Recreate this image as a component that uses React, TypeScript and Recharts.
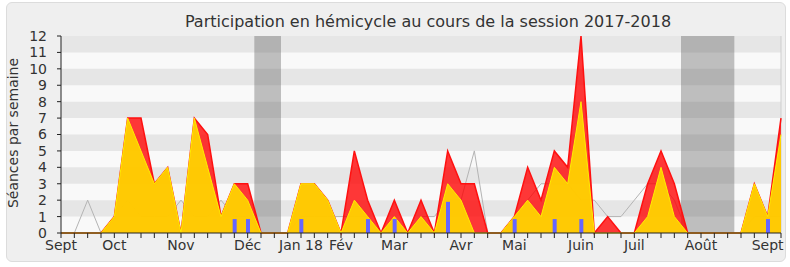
import React from "react";
import {
  ComposedChart,
  Area,
  Line,
  Bar,
  XAxis,
  YAxis,
  ReferenceArea,
  ReferenceLine,
} from "recharts";

// one value per week, Sept 2017 -> Sept 2018
const totalSeances = [
  0, 0, 0, 0, 1, 7, 7, 3, 4, 0, 7, 6, 1, 3, 3, 0, 0, 0, 3, 3, 2, 0, 5, 2, 0, 2,
  0, 2, 0, 5, 3, 3, 0, 0, 1, 4, 2, 5, 4, 12, 0, 1, 0, 0, 3, 5, 3, 0, 0, 0, 0, 0,
  3, 1, 7,
];
const hemicycleSeances = [
  0, 0, 0, 0, 1, 7, 5, 3, 4, 0, 7, 4, 1, 3, 2, 0, 0, 0, 3, 3, 2, 0, 2, 1, 0, 1,
  0, 1, 0, 3, 2, 0, 0, 0, 1, 2, 1, 4, 3, 8, 0, 0, 0, 0, 1, 4, 1, 0, 0, 0, 0, 0,
  3, 1, 6,
];
const medianeDeputes = [
  0, 0, 2, 0, 1, 2, 1, 1, 1, 2, 1, 1, 2, 1, 1, 0, 0, 0, 1, 1, 1, 1, 1, 1, 0, 1,
  0, 1, 1, 2, 2, 5, 0, 0, 1, 2, 3, 3, 3, 2, 2, 1, 1, 2, 3, 3, 2, 0, 0, 0, 0, 0,
  1, 1, 1,
];
const questionWeeks = [13, 14, 18, 23, 25, 29, 34, 37, 39, 53];
const questionValues = [0.85, 0.85, 0.85, 0.85, 0.85, 1.9, 0.85, 0.85, 0.85, 0.85];

const monthWeeks = [0, 4, 9, 14, 18, 21, 25, 30, 34, 39, 43, 48, 53];
const monthLabels = ["Sept", "Oct", "Nov", "Déc", "Jan 18", "Fév", "Mar", "Avr", "Mai", "Juin", "Juil", "Août", "Sept"];

const vacances = [
  [14.5, 16.5],
  [46.5, 50.5],
];

const LAST = totalSeances.length - 1;
const weekTicks = totalSeances.map((_, i) => i);
const yTicks = Array.from({ length: 13 }, (_, i) => i);

const data = totalSeances.map((v, i) => {
  const q = questionWeeks.indexOf(i);
  return {
    week: i,
    total: v,
    hemicycle: hemicycleSeances[i],
    mediane: medianeDeputes[i],
    questions: q >= 0 ? questionValues[q] : null,
  };
});

const monthFormatter = (v: number) => {
  const k = monthWeeks.indexOf(v);
  return k >= 0 ? monthLabels[k] : "";
};

const TEXT = "#333";
const FONT = "DejaVu Sans, Verdana, sans-serif";

export default function App() {
  return (
    <div style={{ position: "absolute", left: 0, top: 0, width: 790, height: 267, fontFamily: FONT }}>
      <div
        style={{
          position: "absolute",
          left: 6,
          top: 2,
          width: 780,
          height: 260,
          boxSizing: "border-box",
          background: "#efefef",
          border: "1px solid #dcdcdc",
          borderRadius: 6,
        }}
      />
      <div style={{ position: "absolute", left: 0, top: 0 }}>
        <ComposedChart
          width={790}
          height={267}
          data={data}
          margin={{ top: 36, right: 9, bottom: 0, left: 0 }}
        >
          <XAxis
            xAxisId="bottom"
            dataKey="week"
            type="number"
            domain={[0, LAST]}
            ticks={weekTicks}
            interval={0}
            tickFormatter={monthFormatter}
            height={34}
            tickSize={5}
            axisLine={{ stroke: "#222" }}
            tickLine={{ stroke: "#222" }}
            tick={{ fill: TEXT, fontSize: 14, fontFamily: FONT }}
          />
          <XAxis
            xAxisId="top"
            orientation="top"
            dataKey="week"
            type="number"
            domain={[0, LAST]}
            ticks={weekTicks}
            interval={0}
            tickFormatter={() => ""}
            height={0}
            tickSize={2}
            axisLine={false}
            tickLine={{ stroke: "#333" }}
          />
          <YAxis
            domain={[0, 12]}
            ticks={yTicks}
            interval={0}
            width={61}
            tickSize={4}
            tickMargin={10}
            axisLine={{ stroke: "#222" }}
            tickLine={{ stroke: "#222" }}
            tick={{ fill: TEXT, fontSize: 14, fontFamily: FONT }}
          />

          <ReferenceArea xAxisId="bottom" x1={0} x2={LAST} y1={0} y2={12} fill="#f9f9f9" fillOpacity={1} stroke="none" zIndex={-200} />
          {yTicks
            .filter((k) => k % 2 === 1)
            .map((k) => (
              <ReferenceArea
                key={`band-${k}`}
                xAxisId="bottom"
                x1={0}
                x2={LAST}
                y1={k}
                y2={k + 1}
                fill="#e6e6e6"
                fillOpacity={1}
                stroke="none"
                zIndex={-190}
              />
            ))}
          {vacances.map(([a, b]) => (
            <ReferenceArea
              key={`vac-${a}`}
              xAxisId="bottom"
              x1={a}
              x2={b}
              y1={0}
              y2={12}
              fill="#505050"
              fillOpacity={0.35}
              stroke="none"
              zIndex={-180}
            />
          ))}
          <ReferenceLine xAxisId="bottom" x={LAST} stroke="#cfcfcf" zIndex={-170} />

          <Line
            xAxisId="bottom"
            dataKey="mediane"
            type="linear"
            stroke="#b4b4b4"
            strokeWidth={1}
            dot={false}
            isAnimationActive={false}
            zIndex={50}
          />
          <Area
            xAxisId="bottom"
            dataKey="total"
            type="linear"
            stroke="#ff1010"
            strokeWidth={1.5}
            fill="#ff0000"
            fillOpacity={0.78}
            isAnimationActive={false}
            zIndex={100}
          />
          <Area
            xAxisId="bottom"
            dataKey="hemicycle"
            type="linear"
            stroke="#ffee00"
            strokeWidth={1}
            fill="#ffd500"
            fillOpacity={0.93}
            isAnimationActive={false}
            zIndex={110}
          />
          <Bar
            xAxisId="bottom"
            dataKey="questions"
            barSize={4}
            fill="#6666ff"
            isAnimationActive={false}
            zIndex={300}
          />

          <text x={428} y={27} textAnchor="middle" fill={TEXT} fontSize={16} fontFamily={FONT}>
            Participation en hémicycle au cours de la session 2017-2018
          </text>
          <text
            transform="translate(18,133) rotate(-90)"
            textAnchor="middle"
            fill={TEXT}
            fontSize={14}
            fontFamily={FONT}
          >
            Séances par semaine
          </text>
        </ComposedChart>
      </div>
    </div>
  );
}
